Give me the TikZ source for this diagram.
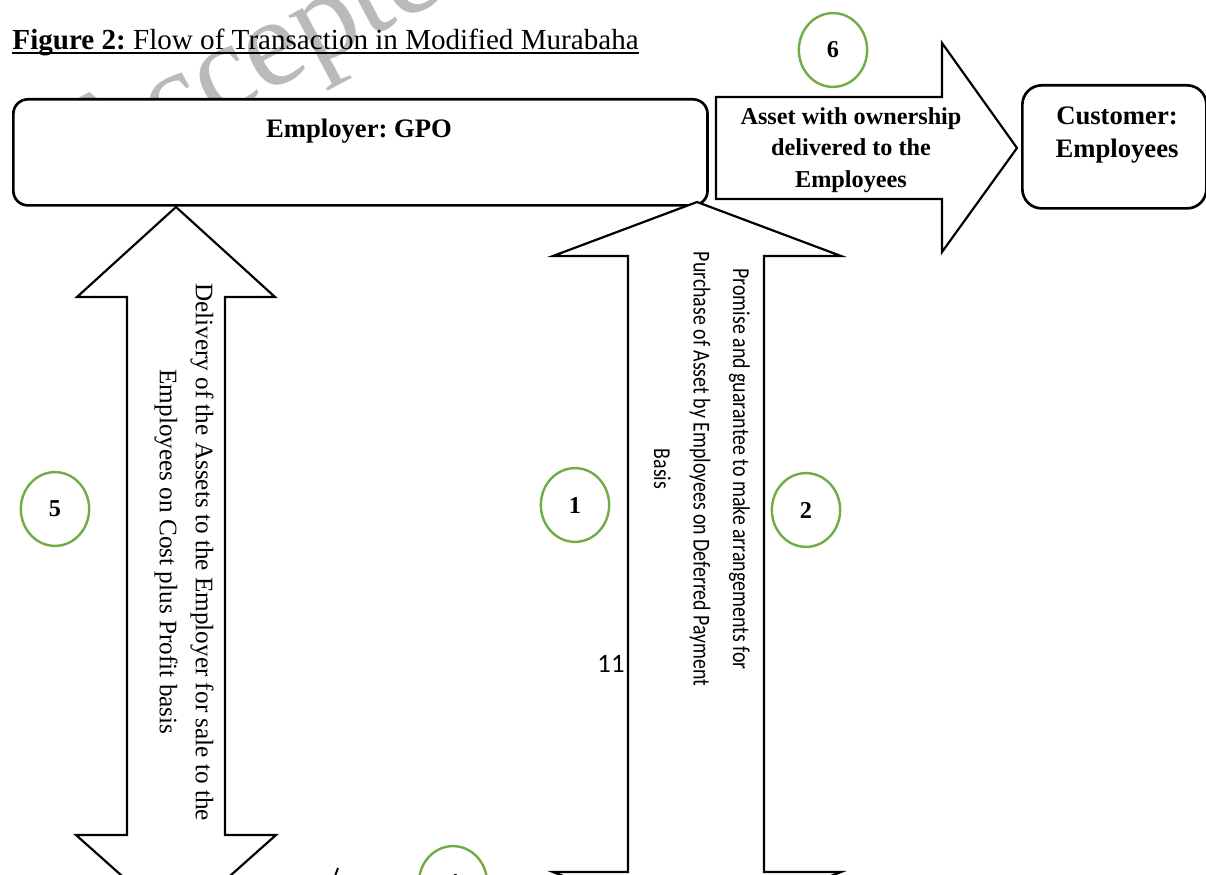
\documentclass[tikz,border=0pt]{standalone}
\usepackage{fontspec}
\setmainfont{Liberation Serif}
\newfontfamily\calibri{Carlito}
\newfontfamily\calibrinarrow[FakeStretch=0.82]{Carlito}
\usetikzlibrary{shapes.geometric}
\frenchspacing

\definecolor{stepgreen}{RGB}{112,173,71}

\tikzset{
	partybox/.style={draw, line width=1.1pt, fill=white, rounded corners=6pt, inner sep=0pt},
	blockarrow/.style={draw, line width=0.9pt, fill=white, line join=miter},
	stepno/.style={draw=stepgreen, line width=1pt, fill=white, ellipse, inner sep=0pt,
		minimum width=0.99cm, minimum height=1.07cm, font=\fontsize{10}{12}\selectfont\bfseries},
}

\begin{document}
\begin{tikzpicture}[x=0.0145cm, y=-0.0145cm]
		\useasboundingbox (0,0) rectangle (1206,875);
		\clip (0,0) rectangle (1206,875);
		
		% Watermark
		\node[rotate=28, anchor=base west, inner sep=0pt, text=black!27,
			font=\fontsize{52}{52}\selectfont] (watermark) at (84,190) {Accepted};
		
		% Title
		\node[anchor=base west, inner sep=0pt, font=\fontsize{12}{14}\selectfont] (title) at (12,50)
			{\textbf{Figure 2:} Flow of Transaction in Modified Murabaha};
		\draw[line width=0.8pt] ([yshift=-1.3pt]title.base west) -- ([yshift=-1.3pt]title.base east);
		
		% Draw boxes
		\node[partybox, anchor=north west, minimum width=10.063cm, minimum height=1.537cm] (employer) at (12,98) {};
		\node[partybox, anchor=north west, minimum width=2.668cm, minimum height=1.784cm, rounded corners=8pt] (customer) at (1021,84) {};
		
		% Define coordinates
		\coordinate (T5) at (176,207);
		\coordinate (T1) at (697,202);
		\coordinate (T6) at (1017,148);
		
		% Double arrow on the left
		\draw[blockarrow] (T5) -- (275,297) -- (225,297) -- (225,835) -- (276,835) -- (176,924)
			-- (76,835) -- (127,835) -- (127,297) -- (77,297) -- cycle;
		
		% Double arrow in the middle
		\draw[blockarrow] (T1) -- (841,256) -- (764,256) -- (764,872) -- (841,872) -- (697,929)
			-- (553,872) -- (628,872) -- (628,256) -- (553,256) -- cycle;
		
		% Arrow to the customer
		\draw[blockarrow] (716,97) -- (942,97) -- (942,43) -- (T6) -- (942,252) -- (942,199) -- (716,199) -- cycle;
		\draw[line width=0.8pt] (335,876) -- (338,868);
		
		% Labels
		\node[anchor=base, inner sep=0pt, font=\fontsize{11}{13}\selectfont\bfseries] (employerlabel) at (359,137) {Employer: GPO};
		\node[align=center, inner sep=0pt, font=\fontsize{11}{13.6}\selectfont\bfseries] (customerlabel) at (1117,135) {Customer:\\Employees};
		\node[align=center, inner sep=0pt, font=\fontsize{10}{13}\selectfont\bfseries] (assetlabel) at (851,150)
			{Asset with ownership\\delivered to the\\Employees};
		\node[rotate=-90, align=center, inner sep=0pt, font=\fontsize{10.4}{14.9}\selectfont] (deliverylabel) at (184,552)
			{Delivery of the Assets to the Employer for sale to the\\Employees on Cost plus Profit basis};
		\node[rotate=-90, align=center, inner sep=0pt, font=\fontsize{10}{16.3}\calibrinarrow] (promiselabel) at (702,469)
			{Promise and guarantee to make arrangements for\\Purchase of Asset by Employees on Deferred Payment\\Basis};
		\node[inner sep=0pt, font=\fontsize{11}{13}\calibri] (pageno) at (611,664) {11};
		
		% Step numbers
		\node[stepno] (s6) at (833,50) {6};
		\node[stepno] (s5) at (55,509) {5};
		\node[stepno] (s1) at (575,505) {1};
		\node[stepno] (s2) at (806,510) {2};
		\node[stepno] (s4) at (453,883) {4};
\end{tikzpicture}
\end{document}
